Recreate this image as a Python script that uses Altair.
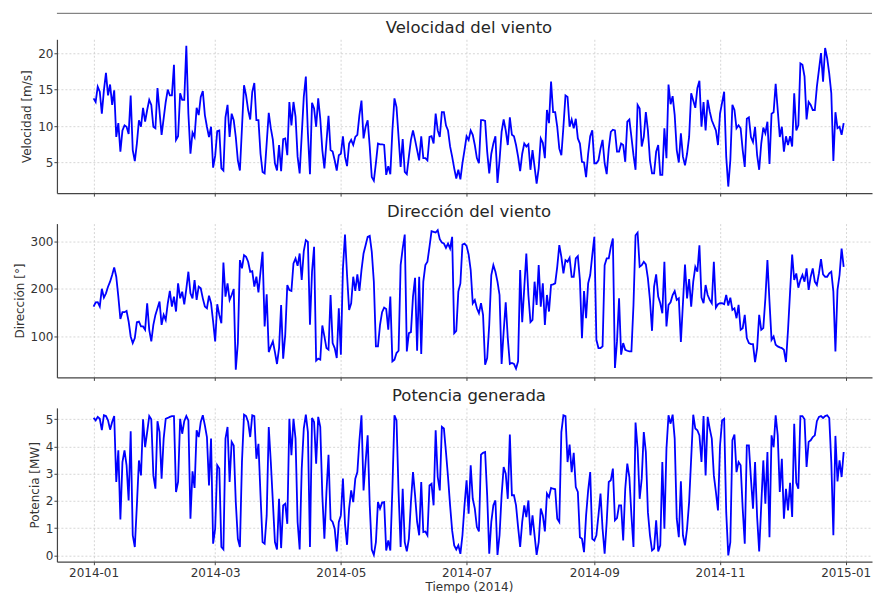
import altair as alt
import pandas as pd

# ---------------- data (day of year 2014, value) -------------
speed_days = (list(range(0, 32)) + [33] + list(range(35, 72)) + list(range(73, 84))
              + list(range(85, 101)) + list(range(102, 291)) + list(range(292, 301))
              + [302, 303, 304] + list(range(306, 365)))
speed_vals = [
    13.8, 13.3, 15.4, 14.7, 11.7, 14.9, 17.3, 14.2, 15.7, 12.9, 14.9, 8.5, 10.4, 6.5, 9.4, 10.1,
    9.9, 8.9, 14.2, 6.7, 5.2, 7.6, 10.8, 9.9, 12.5, 10.6, 12.2, 13.6, 12.9, 9.9, 9.7, 15.2,
    8.8,
    13.3, 15.0, 14.2, 14.2, 18.4, 8.1, 8.6, 14.5, 13.6, 13.6, 21.0, 11.7, 6.2, 9.1, 8.5, 12.5,
    11.5, 14.0, 14.8, 11.5, 9.9, 8.5, 9.9, 4.3, 5.9, 9.3, 9.4, 4.2, 3.9, 11.2, 12.9, 8.5, 11.7,
    10.8, 8.5, 5.3, 3.9,
    15.6, 14.2, 12.2, 10.9, 14.7, 15.9, 10.8, 10.8, 6.2, 3.7, 3.5,
    11.8, 9.7, 8.1, 4.9, 3.9, 7.4, 3.8, 8.2, 8.3, 6.0, 13.3, 10.1, 13.3, 11.3, 5.8, 3.5,
    14.0, 16.8, 9.0, 3.4, 13.2, 12.4, 9.9, 13.8, 11.0, 6.7,
    4.2, 7.8, 11.4, 6.7, 6.5, 5.3, 3.9, 6.0, 6.2, 8.6,
    5.8, 4.5, 7.6, 8.1, 7.4, 8.5, 8.8, 11.5, 13.5, 8.3,
    9.9, 10.8, 7.2, 3.0, 2.5, 4.9, 7.6, 7.5, 7.5, 7.4,
    3.3, 4.5, 3.4, 9.4, 13.8, 12.6, 8.5, 4.4, 8.2, 3.7,
    3.4, 5.8, 8.1, 9.4, 8.1, 6.7, 5.3, 8.6, 5.6, 5.6,
    5.3, 8.5, 8.6, 7.6, 11.7, 9.4, 8.5, 11.9, 11.9, 10.1,
    9.4, 7.2, 5.8, 4.2, 2.8, 4.0, 2.7, 4.9, 6.7, 8.6,
    8.1, 9.4, 8.8, 7.4, 5.6, 4.9, 10.8, 10.8, 10.7, 6.5,
    3.5, 6.2, 7.6, 8.6, 2.2, 5.3, 9.2, 10.9, 9.4, 7.4,
    11.2, 8.8, 8.6, 7.4, 5.8, 3.8, 6.2, 7.6, 7.2, 7.5,
    4.0, 6.7, 4.4, 2.1, 4.2, 8.3, 7.7, 5.6, 12.2, 10.4,
    16.1, 11.9, 11.9, 9.9, 6.9, 6.0, 9.9, 14.2, 14.0, 9.9,
    10.9, 9.7, 11.0, 8.3, 7.6, 5.1, 5.0, 3.0, 6.2, 8.6,
    9.4, 4.9, 4.9, 5.3, 6.9, 8.1, 4.9, 3.4, 6.9, 9.2,
    9.5, 9.4, 6.5, 6.5, 7.6, 7.4, 5.1, 10.6, 10.9, 8.5,
    6.0, 4.0, 12.9, 12.4, 7.2, 8.5, 11.9, 9.4, 5.3, 3.5,
    3.5, 6.5, 7.4, 3.3, 3.3, 9.7, 5.6, 15.7, 13.0, 14.1,
    11.5, 6.7, 5.0, 9.0, 5.8, 4.6, 6.2, 8.5, 14.5,
    12.5, 15.2, 16.2, 9.9, 13.3, 9.4, 13.6, 12.0, 10.8,
    9.4, 7.4, 11.7,
    14.7, 5.8, 1.7, 5.3, 12.9, 12.2, 9.7, 10.1, 9.7, 6.7, 4.4, 11.0, 11.2, 8.5, 7.8, 9.9,
    6.0, 4.0, 7.6, 9.8, 9.0, 10.6, 4.8, 11.7, 11.9, 15.8, 12.2, 8.5, 9.9, 6.5, 8.6, 7.4,
    8.6, 7.2, 14.5, 9.4, 10.1, 18.6, 18.4, 16.8, 10.9, 13.3, 12.9, 12.2, 12.2, 15.4, 17.7,
    20.0, 16.1, 20.7, 19.3, 17.2, 14.5, 5.2, 11.9, 9.7, 9.9, 8.8, 10.4,
]

dir_days = list(range(0, 365))
dir_vals = [
    162.7, 171.8, 172, 163, 200, 181.5, 190.6, 204.5, 215, 229,
    245, 225.4, 183.6, 136.9, 151, 151, 153.7, 131.4, 100, 86,
    96.5, 130, 131.4, 121, 121, 114, 169.7, 114, 89.6, 124.4,
    145.3, 159, 173.2, 124.4, 145.3, 134.8, 169.7, 195.5, 162.7, 183.6,
    152.3, 211.5, 180, 194, 167.6, 199.7, 235.9, 190.6, 180, 218.5,
    176.7, 204.5, 201, 180, 162.7, 159.2, 185.7, 169.7, 131.4, 89.6,
    167.6, 145.3, 127.9, 255.4, 183.6, 211.5, 176.7, 187.1, 199.7, 30.3,
    86, 260.3, 242.9, 270.7, 267.2, 256.8, 235.9, 237.3, 204.5, 225.4,
    192.7, 235.9, 277.7, 120.9, 188.5, 67.2, 79.1, 89.6, 67.2, 42.2,
    75.6, 166.2, 53.3, 103.5, 208, 197.6,
    195.5, 253.3, 263.8, 248.4, 274.2, 218.5, 279.1, 302.1, 298.6, 124.4,
    235.9, 288.2, 49.1, 53.3, 51.2, 123, 100, 75.6, 72.1, 187.1,
    86, 75.6, 54.7, 159.2, 61.7, 242.9, 313.9, 228.9, 155.7, 169.7,
    225.4, 195.5, 230.3, 195.5, 239.4, 274.2, 291.6, 309.1, 311.1, 277.7,
    215, 79.1, 79.1, 124.4, 151, 160.6, 157.8, 114, 183.6, 47.7,
    51.2, 65.2, 70, 249.8, 284.7, 313.9, 68.6, 107, 109.1, 183.6,
    223.3, 70, 225.4, 63, 215, 249.8, 256.8, 288.2, 320.9, 319.5,
    318.1, 323, 304.2, 297.2, 295.1, 286.1, 295.1, 284.7, 309.1, 107,
    111.8, 194.1, 211.5, 293, 295.1, 290.2, 272.1, 239.4,
    169.7, 176.7, 159.2, 148.8, 169.7, 145.3, 40.8, 54.7, 124.4, 229,
    249.8, 235.9, 215, 187.1, 42.2, 110.5, 171.8, 96.5, 42.2, 44.3,
    42.2, 32.4, 47.7, 239.4, 130, 202.4, 274.2, 187.1, 130, 134.8,
    215, 166.2, 249.8, 162.7, 211.5, 124.4, 187.1, 152.3, 208, 209.4,
    211.5, 246.3, 291.6, 267.2, 232.4, 260.3, 256.8, 265.2, 225.4, 225.4,
    263.8, 268.6, 218.5, 96.5, 195.5, 138.3, 211.5, 229, 270.7, 309.1,
    93, 75.6, 75.6, 79.1, 249.8, 263.8, 263.8, 288.2, 305.6, 33.8,
    89.6, 180, 61.7, 86, 72.1, 70, 68.6, 68.6, 166.2, 312.5,
    318.1, 246.3, 249.8, 256.8, 251.2, 222, 176.7, 111.8, 204.5, 230.3,
    183.6, 169.7, 148.8, 256.8, 120.9, 166.2, 171.8, 187.1, 195.5, 176.7,
    180, 88.2, 169.7, 251.2, 180, 220.6, 162.7, 215, 246.3, 235.9,
    291.6, 181.5, 169.7, 208, 187.1, 176.7, 169.7, 256.8, 160.6, 167.6,
    169.7, 169.7, 167.6, 187.1, 164.8, 181.5, 155.7, 159.2, 138.3, 166.2,
    114, 117.4, 145.3, 96.5, 86, 84, 84, 46.3, 75.6, 145.3,
    114, 117.4, 180, 260.3, 173.2, 93, 100, 82.6, 79.1, 77,
    75.6, 72.1, 46.3, 114, 194.1, 272.1, 218.5, 232.4, 202.4, 218.5,
    229, 215, 242.9, 197.6, 225.4, 242.9, 215, 208, 232.4, 262.4,
    230.3, 225.4, 225.4, 232.4, 235.9, 194.1, 68.6, 197.6, 229, 284.7,
    246.3,
]

power_days = list(range(0, 290)) + list(range(291, 365))
power_vals = [
    5.05, 4.96, 5.09, 5.02, 4.6, 5.15, 5.12, 4.96, 4.62, 4.9,
    5.12, 2.7, 3.86, 1.32, 3.43, 3.86, 3.31, 2.02, 4.56, 0.74,
    0.31, 1.84, 3.49, 2.94, 5.0, 3.98, 4.53, 5.12, 5.0, 2.94,
    2.45, 4.93, 4.53, 2.82, 4.29, 5.02, 5.05, 5.09, 5.12, 5.12,
    2.33, 2.7, 5.02, 4.47, 4.93, 5.12, 4.96, 1.35, 3.09, 2.48,
    4.6, 4.35, 4.9, 5.15, 4.78, 4.35, 2.57, 4.29, 0.43, 0.98,
    3.31, 3.19, 0.31, 0.22, 4.29, 4.72, 2.7, 4.17, 4.04, 1.96,
    0.61, 0.31, 3.43, 5.17, 5.12, 4.9, 4.35, 5.15, 5.12, 3.55,
    4.1, 2.21, 0.49, 0.43, 1.47, 4.72, 3.43, 1.96, 0.49, 0.22,
    2.08, 0.27, 1.84, 1.9, 1.16, 5.02, 3.68, 5.02, 4.29, 1.23,
    0.22, 3.19, 4.66, 5.17, 4.53, 0.31, 5.05, 4.9, 3.37, 5.09,
    4.72, 2.21, 0.61, 2.33, 3.7, 1.32, 1.23, 0.98, 0.15, 1.23,
    1.47, 2.82, 1.16, 0.39, 1.72, 2.39, 1.96, 2.82, 3.06, 4.23,
    5.15, 2.39, 3.43, 4.41, 1.84, 0.22, 0.02, 0.49, 1.96, 1.72,
    1.94, 1.96, 0.18, 0.55, 0.18, 2.45, 5.15, 4.96, 2.33, 0.31,
    2.45, 0.49, 0.15, 0.61, 1.96, 3.06, 2.21, 1.23, 0.74, 2.7,
    0.86, 0.88, 0.74, 2.57, 2.63, 1.84, 4.6, 2.88, 2.39, 4.72,
    4.66, 3.8, 2.88, 1.84, 0.92, 0.37, 0.22, 0.37, 0.06, 0.74,
    1.84, 2.76, 1.53, 3.31, 2.08, 1.72, 1.04, 0.88, 3.7, 3.77,
    3.8, 2.21, 0.06, 1.23, 1.84, 2.02, 0.02, 0.74, 2.21, 3.25,
    3.0, 2.08, 4.44, 2.21, 2.21, 1.84, 1.04, 0.31, 1.23, 1.84,
    1.41, 2.02, 0.74, 1.47, 0.74, 0.02, 0.49, 1.72, 1.47, 0.88,
    2.27, 2.14, 2.48, 2.45, 2.43, 1.35, 1.23, 4.53, 5.15, 5.12,
    3.43, 4.07, 3.06, 3.77, 2.51, 2.33, 0.67, 0.61, 0.12, 1.47,
    2.39, 3.06, 0.61, 0.55, 0.74, 1.47, 2.27, 0.98, 0.06, 1.23,
    2.7, 2.76, 3.19, 1.29, 1.37, 1.84, 1.84, 0.55, 2.45, 3.37,
    2.88, 1.47, 0.31, 4.88, 3.92, 2.08, 2.82, 4.53, 3.8, 1.59,
    0.74, 0.18, 0.25, 1.29, 0.15, 0.37, 3.43, 0.98, 3.92, 5.15,
    4.84, 5.17, 4.29, 1.35, 0.67, 2.72, 0.74, 0.37, 0.98, 1.96,
    5.17, 4.66, 4.6, 4.41, 3.43, 5.12, 2.94, 5.09, 4.66, 4.29,
    2.94, 2.33, 1.65, 4.04, 4.96, 5.02, 1.59, 0.0, 0.49, 4.23,
    4.44, 3.06, 3.43, 3.31, 1.72, 0.43, 4.04, 4.04, 2.82, 1.72,
    3.43, 1.41, 0.15, 1.84, 3.49, 1.9, 3.8, 0.67, 4.41, 3.98,
    5.15, 4.41, 2.33, 3.55, 1.35, 2.45, 1.65, 2.67, 1.41, 4.84,
    2.67, 2.45, 5.12, 5.12, 5.0, 3.25, 4.17, 4.23, 4.35, 4.41,
    4.93, 5.09, 5.12, 5.05, 5.12, 5.15, 5.05, 3.43, 0.74, 4.39,
    2.72, 3.49, 2.88, 3.8,
]

panel_titles = ["Velocidad del viento", "Dirección del viento", "Potencia generada"]
y_titles = ["Velocidad [m/s]", "Dirección [°]", "Potencia [MW]"]
y_ticks = [[5, 10, 15, 20], [100, 200, 300], [0, 1, 2, 3, 4, 5]]
y_domains = [[0.8, 21.9], [14, 337], [-0.23, 5.42]]
x_tick_months = [(2014, 1), (2014, 3), (2014, 5), (2014, 7), (2014, 9), (2014, 11), (2015, 1)]
x_title = "Tiempo (2014)"

# ---------------- build -------------------
BASE = pd.Timestamp("2014-01-01")


def frame(days, vals):
    n = min(len(days), len(vals))
    return pd.DataFrame({
        "fecha": [BASE + pd.Timedelta(days=int(d)) for d in days[:n]],
        "valor": vals[:n],
    })


W, H = 816, 154
TITLE_X = 412.5
FONT = "DejaVu Sans"
x_domain = [alt.DateTime(year=2013, month=12, date=14, hours=5),
            alt.DateTime(year=2015, month=1, date=13, hours=18)]
x_values = [alt.DateTime(year=y, month=m, date=1) for y, m in x_tick_months]

series = [(speed_days, speed_vals), (dir_days, dir_vals), (power_days, power_vals)]
panels = []
for i, (d, v) in enumerate(series):
    bottom = i == 2
    xaxis_kwargs = dict(values=x_values, format="%Y-%m", labels=bottom, grid=True,
                        tickSize=3, labelPadding=3)
    if bottom:
        xaxis_kwargs.update(title=x_title, titleX=TITLE_X, titleY=24.5,
                            titleBaseline="middle", titleAlign="center")
    else:
        xaxis_kwargs["title"] = None
    line = alt.Chart(frame(d, v)).mark_line(color="#0000ff", strokeWidth=1.8).encode(
        x=alt.X("fecha:T", scale=alt.Scale(domain=x_domain), axis=alt.Axis(**xaxis_kwargs)),
        y=alt.Y("valor:Q",
                scale=alt.Scale(domain=y_domains[i], nice=False, zero=False),
                axis=alt.Axis(values=y_ticks[i], title=y_titles[i], grid=True,
                              tickSize=3, labelPadding=1, titlePadding=4)),
    )
    title_txt = alt.Chart(pd.DataFrame({"t": [panel_titles[i]]})).mark_text(
        font=FONT, fontSize=16.5, color="#262626", align="center", baseline="middle"
    ).encode(text="t:N", x=alt.value(TITLE_X), y=alt.value(-11.5))
    layers = [line, title_txt]
    if i == 0:
        top_rule = alt.Chart(pd.DataFrame({"k": [0]})).mark_rule(
            color="#666666", strokeWidth=1).encode(
            x=alt.value(0), x2=alt.value(W), y=alt.value(-26))
        layers.append(top_rule)
    p = alt.layer(*layers).properties(width=W, height=H)
    panels.append(p)

chart = alt.vconcat(*panels, spacing=6.5).properties(
    padding={"left": 13, "top": 12, "right": 0, "bottom": 0},
).configure_view(stroke=None).configure_axis(
    labelFont=FONT, labelFontSize=12, labelColor="#333333",
    titleFont=FONT, titleFontSize=12, titleFontWeight="normal", titleColor="#333333",
    domainColor="#444444", domainWidth=1.2, tickColor="#444444",
    gridColor="#cccccc", gridDash=[2, 2], gridWidth=0.8,
)

chart.save("out.html", embed_options={"renderer": "svg", "actions": False})
